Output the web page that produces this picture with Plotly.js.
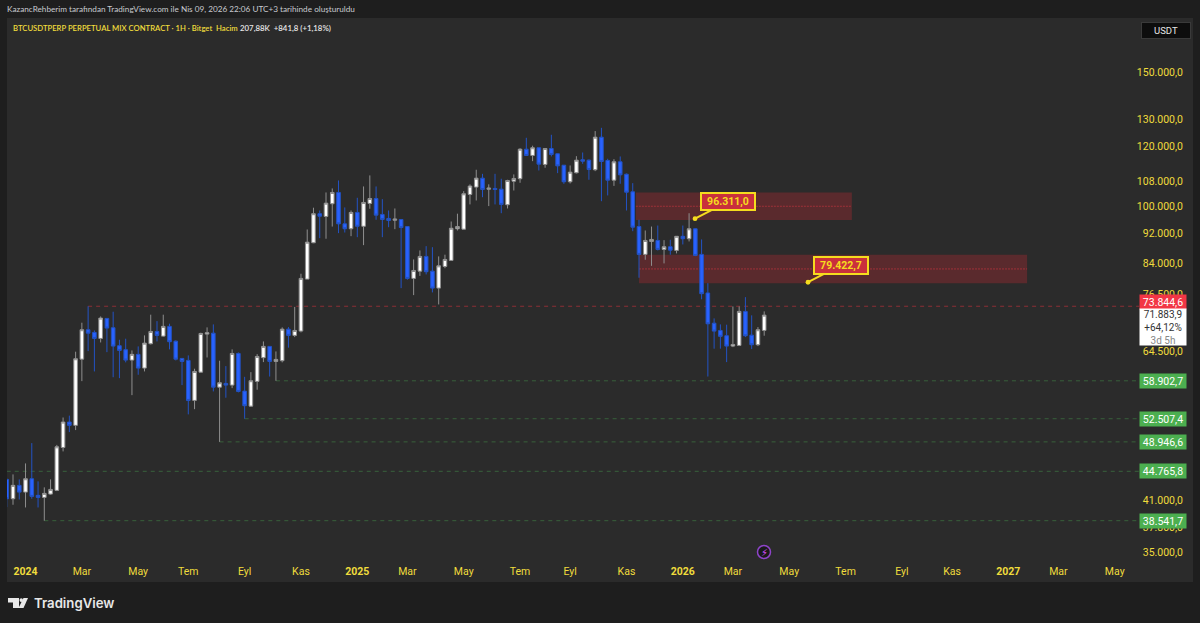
<!DOCTYPE html>
<html><head><meta charset="utf-8">
<script src="https://cdn.plot.ly/plotly-3.0.1.min.js"></script>
<style>html,body{margin:0;padding:0;background:#1e1e1e}#c{width:1200px;height:623px}</style></head>
<body><div id="c"></div>
<script>
const firstWeek = '2023-12-11';
const open = [43680,41190,42900,42030,43770,41620,41360,41780,42250,48120,
51980,51460,62900,68770,68210,66980,71170,69190,65520,64730,
62720,63820,61220,65910,68410,67450,69470,66430,63040,62660,
55500,60470,67860,68060,57780,58440,58140,64000,57090,54550,
58800,63180,65380,62470,62600,68890,67600,68480,80180,89520,
97770,96950,100760,104270,94810,93400,98140,94110,100850,102380,
97550,96370,95870,96070,94030,80350,82140,85890,82140,78020,
83300,84850,93400,93290,103630,105980,108890,105320,105550,105320,
100460,107900,108700,118890,116650,119400,113510,119150,117250,113260,
107700,110690,115140,115000,111700,123300,114890,108230,114440,110200,
104480,94030,86420,89880,90150,87730,88450,87460,91290,90620,
93400,86420,76880,70150,68620,67530,65440,65570,72700,67650,
65710,68620];
const close = [41190,42900,42030,43770,41490,41360,41870,42380,48220,51980,
51460,62980,68770,68060,66980,71240,69110,65440,64590,62720,
63820,61220,66030,68410,67600,69470,66310,62900,62470,55500,
60600,68000,68150,57780,58560,58140,64000,57040,54620,58920,
63420,65380,62470,62850,68890,67600,68620,80350,89680,97770,
97030,100940,104270,94810,93400,98140,94110,101160,102380,97340,
96070,95780,96170,93740,80350,82310,85890,81990,78020,83470,
85110,93540,94030,103850,106320,108890,105220,105640,105220,100560,
108130,108800,118890,116650,119400,113620,119150,117000,113030,107700,
110890,115000,114650,111800,123300,114540,108230,114440,110000,104350,
93850,86420,90150,90430,87730,88450,87540,91290,90620,93400,
86150,76710,70020,68480,67400,65440,65770,72700,67530,65710,
68770,71883.9];
const high = [43800,44350,43680,45850,48760,43420,42640,43680,48500,52700,
53000,64340,70250,73844.6,68620,71600,71170,72630,66710,66920,
64590,65380,67600,71980,70590,71980,70040,66570,63040,63620,
61100,68150,69260,69890,62600,61590,64790,64200,59620,60470,
63870,66370,65380,64390,69260,69320,73700,81500,93200,99560,
98730,104270,105550,108130,99640,98730,102600,106190,109800,106190,
102170,98730,99330,96070,94030,85110,87460,88600,88330,85890,
86340,95480,97770,104690,106870,111700,110330,106870,110330,108700,
108360,110130,119250,123070,120150,119500,119300,124200,117350,113260,
113160,116400,117700,115250,125600,126850,115490,115350,116300,110430,
107250,95980,92920,94030,94320,90230,90340,91350,94320,97910,
93500,90430,79190,71170,69890,69830,73800,73800,75910,71830,
69320,72700];
const low = [40160,40450,41100,40120,41190,40120,38541.7,41700,42160,47550,
50420,50730,58850,64450,60600,66170,64250,59550,59380,62290,
56400,59990,60600,65770,66370,67330,64790,62660,58140,53200,
54050,60420,63220,57040,48946.6,55960,57610,56870,52507.4,54450,
57330,62340,59670,58902.7,62290,65130,67250,68210,80180,89410,
90780,90620,94030,92170,92350,91330,91050,88880,99240,95980,
91050,93850,93290,78020,80030,76380,80960,81320,77010,74250,
82870,84850,92920,93290,100560,101770,102780,100050,100560,97910,
99330,104900,107380,116650,114650,111460,112380,116300,110560,107050,
107160,110460,113730,108360,111230,101550,103330,106370,107050,98730,
92720,80520,85030,83470,87460,84090,86340,86680,89060,89880,
85960,75420,59670,64930,64930,62340,65240,65440,67250,64850,
65440,67530];

const priceTicks = [150000,130000,120000,108000,100000,92000,84000,76500,64500,41000,37800,35000];
const priceTickText = ['150.000,0','130.000,0','120.000,0','108.000,0','100.000,0','92.000,0','84.000,0','76.500,0','64.500,0','41.000,0','37.800,0','35.000,0'];
const timeTicks = ['2024-01-01','2024-03-04','2024-05-06','2024-07-01','2024-09-02','2024-11-04','2025-01-06','2025-03-03','2025-05-05','2025-07-07','2025-09-01','2025-11-03','2026-01-05','2026-03-02','2026-05-04','2026-07-06','2026-09-07','2026-11-02','2027-01-04','2027-03-01','2027-05-03'];
const timeTickText = ['<b>2024</b>','Mar','May','Tem','Eyl','Kas','<b>2025</b>','Mar','May','Tem','Eyl','Kas','<b>2026</b>','Mar','May','Tem','Eyl','Kas','<b>2027</b>','Mar','May'];

const greenLevels = [58902.7,52507.4,48946.6,44765.8,38541.7];
const greenLabels = ['58.902,7','52.507,4','48.946,6','44.765,8','38.541,7'];
const greenStart  = [43,38,34,0,6];
const redLevel = 73844.6, redStart = 13;
const zones = [
  {top:104270,bottom:95930,mid:100000,from:100.5,to:135},
  {top:86340,bottom:79190,mid:82690,from:101,to:163}
];

const M = {l:7,r:7,t:18,b:41}, W = 1200, H = 623;
const PW = W-M.l-M.r, PH = H-M.t-M.b;
const px = x => (x-M.l)/PW, py = y => (H-M.b-y)/PH;
const week = i => new Date(Date.parse(firstWeek+'T00:00:00Z')+i*7*864e5).toISOString().slice(0,19);
const dates = open.map((_,i)=>week(i));
const tagEnd = 180.9;

const shapes = [];
zones.forEach(z=>{
  shapes.push({type:'rect',layer:'below',xref:'x',yref:'y',x0:week(z.from),x1:week(z.to),y0:z.bottom,y1:z.top,
    fillcolor:'rgba(200,40,50,0.30)',line:{width:0}});
  shapes.push({type:'line',layer:'below',xref:'x',yref:'y',x0:week(z.from),x1:week(z.to),y0:z.mid,y1:z.mid,
    line:{color:'rgba(215,55,65,0.55)',width:1,dash:'2px,1px'}});
});
shapes.push({type:'line',layer:'below',xref:'x',yref:'y',x0:week(redStart),x1:week(tagEnd),y0:redLevel,y1:redLevel,
  line:{color:'#8c2f36',width:1,dash:'4px,4px'}});
greenLevels.forEach((v,i)=>shapes.push({type:'line',layer:'below',xref:'x',yref:'y',x0:week(greenStart[i]),x1:week(tagEnd),y0:v,y1:v,
  line:{color:'#38603b',width:1,dash:'4px,4px'}}));
shapes.push({type:'circle',xref:'paper',yref:'paper',x0:px(757.5),x1:px(770.5),y0:py(558.5),y1:py(545.5),
  fillcolor:'#1a1a1a',line:{color:'#8e44c9',width:1.5}});
const path = pts => 'M '+pts.map(p=>px(p[0])+' '+py(p[1])).join(' L ')+' Z';
shapes.push({type:'path',xref:'paper',yref:'paper',path:path([[8,598],[19,598],[19,608],[13,608],[13,602.5],[8,602.5]]),fillcolor:'#e8e8e8',line:{width:0}});
shapes.push({type:'circle',xref:'paper',yref:'paper',x0:px(19.5),x1:px(23),y0:py(602),y1:py(598.2),fillcolor:'#e8e8e8',line:{width:0}});
shapes.push({type:'path',xref:'paper',yref:'paper',path:path([[23.5,598],[28,598],[23.5,608],[18.5,608]]),fillcolor:'#e8e8e8',line:{width:0}});

const font = 'Roboto, "Liberation Sans", sans-serif';
const head = 'Lato, Roboto, sans-serif';
const ann = [];
const txt = (x,y,t,size,color,extra={}) => ann.push(Object.assign({xref:'paper',yref:'paper',x:px(x),y:py(y),text:t,showarrow:false,
  xanchor:'left',yanchor:'middle',align:'left',font:{family:font,size:size,color:color}},extra));

txt(6,9,'KazancRehberim tarafından TradingView.com ile Nis 09, 2026 22:06 UTC+3 tarihinde oluşturuldu',8.2,'#c9cbd0',{borderpad:0,font:{family:head,size:8.2,color:'#c9cbd0'}});
txt(11.5,28,'BTCUSDTPERP PERPETUAL MIX CONTRACT · 1H · Bitget  Hacim',7.7,'#f0dc3c',{borderpad:0,font:{family:head,size:7.7,color:'#f0dc3c',weight:600}});
txt(239,28,'207,88K  +841,8 (+1,18%)',7.85,'#e6e6e6',{borderpad:0,font:{family:head,size:7.85,color:'#e6e6e6',weight:600}});
txt(1141,30.5,'USDT',9.5,'#e6e6e6',{bgcolor:'#0d0d0d',bordercolor:'#3a3a3a',borderwidth:1,width:46,height:13,align:'center',xanchor:'left'});
txt(33,603,'TradingView',13.2,'#e8e8e8',{borderpad:0,font:{family:'Inter, Roboto, sans-serif',size:13.2,color:'#e8e8e8',weight:600}});
txt(764,552,'⚡',10,'#d24bff',{xanchor:'center',font:{family:'DejaVu Sans',size:10,color:'#d24bff'}});

const tag = (v,t,bg,yshift) => ann.push({xref:'paper',yref:'y',x:px(1139),y:Math.log10(v),text:t,showarrow:false,xanchor:'left',yanchor:'middle',
  align:'center',width:46,height:14,bgcolor:bg,borderpad:0,yshift:yshift||0,font:{family:font,size:10.5,color:'#ffffff'}});
greenLevels.forEach((v,i)=>tag(v,greenLabels[i],'#4caf50'));
tag(redLevel,'73.844,6','#f23645',4);
ann.push({xref:'paper',yref:'paper',x:px(1139),y:py(326.5),text:'71.883,9<br>+64,12%<br><span style="color:#888">3d 5h</span>',showarrow:false,xanchor:'left',yanchor:'middle',
  align:'center',width:46,height:36,bgcolor:'#ffffff',borderpad:0,font:{family:font,size:10,color:'#333333'}});

const callout = (i,v,t,ax,ay) => ann.push({xref:'x',yref:'y',x:week(i),y:Math.log10(v),text:'<b>'+t+'</b>',showarrow:true,arrowhead:6,arrowsize:0.6,arrowwidth:2,arrowcolor:'#f5dc1e',
  ax:ax,ay:ay,bgcolor:'#c9303c',bordercolor:'#f5dc1e',borderwidth:2,borderpad:2,width:48,height:11,align:'center',font:{family:font,size:10.5,color:'#f5dc1e'}});
callout(109.95,96311,'96.311,0',33,-17);
callout(128,79422.7,'79.422,7',33,-17);

const trace = {type:'candlestick',x:dates,open:open,high:high,low:low,close:close,hoverinfo:'skip',
  increasing:{fillcolor:'#ffffff',line:{color:'#8f8f8f',width:1}},
  decreasing:{fillcolor:'#2962ff',line:{color:'#2353c4',width:1}},whiskerwidth:0};

const layout = {
  width:W,height:H,margin:M,paper_bgcolor:'#1e1e1e',plot_bgcolor:'#2b2b2b',showlegend:false,boxgap:0.18,
  xaxis:{type:'date',range:[week(0.04),week(189.5)],rangeslider:{visible:false},showgrid:false,zeroline:false,showline:false,ticks:'',
    tickmode:'array',tickvals:timeTicks,ticktext:timeTickText,ticklabelposition:'inside',ticklabelstandoff:2,tickfont:{family:font,size:10.5,color:'#f0dc3c'},fixedrange:true},
  yaxis:{type:'log',side:'right',range:[4.5052,5.2479],showgrid:false,zeroline:false,showline:false,ticks:'',
    tickmode:'array',tickvals:priceTicks,ticktext:priceTickText,ticklabelposition:'inside',ticklabelstandoff:7,tickfont:{family:font,size:10.5,color:'#f0dc3c'},fixedrange:true},
  shapes:shapes,annotations:ann
};
Plotly.newPlot('c',[trace],layout,{displayModeBar:false,staticPlot:true});
</script></body></html>
